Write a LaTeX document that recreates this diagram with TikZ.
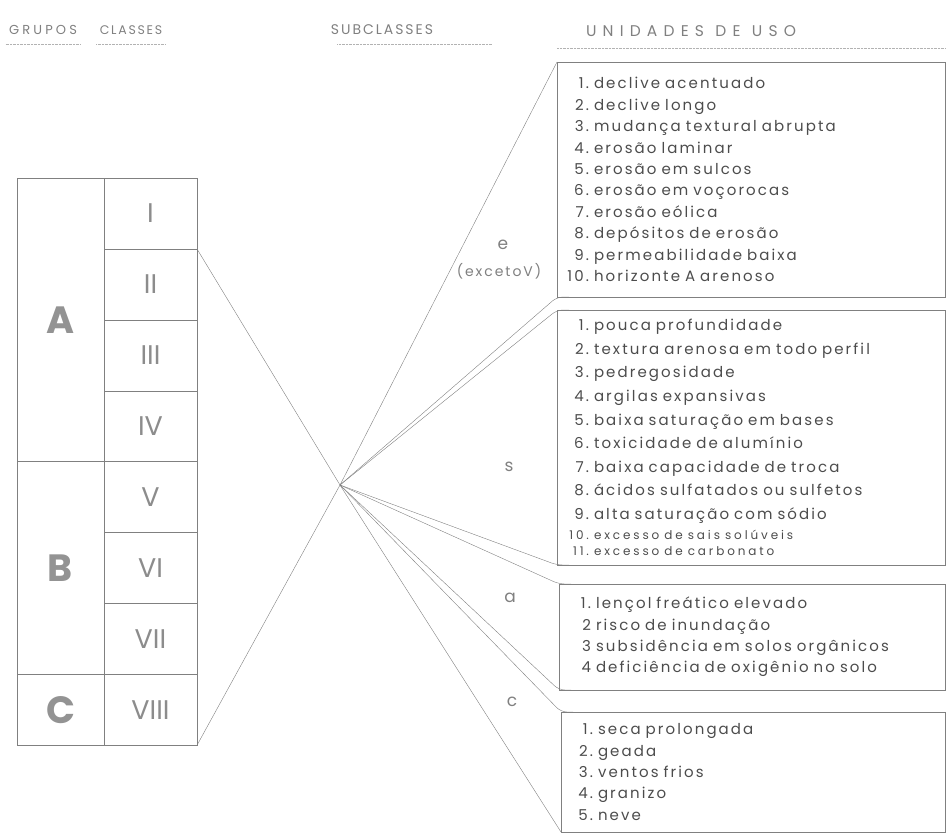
\documentclass[tikz,border=0pt]{standalone}
\usepackage{fontspec}
\setmainfont{Poppins}
\newfontfamily\lettering[LetterSpace=14,WordSpace=1.8]{Poppins}
\newfontfamily\widelettering[LetterSpace=24,WordSpace=2]{Poppins}
\newfontfamily\headlettering[LetterSpace=40,WordSpace=1.1]{Poppins}
\usetikzlibrary{positioning}
\definecolor{pencil}{gray}{0.50}
\definecolor{ink}{gray}{0.30}
\tikzstyle{cls}=[draw=pencil, rectangle, outer sep=0pt, minimum width=93pt, minimum height=70.9pt, font=\fontsize{27}{27}\selectfont, text=gray!90]
\tikzstyle{grp}=[draw=pencil, rectangle, outer sep=0pt, anchor=north east, minimum width=87pt, font=\bfseries\fontsize{38}{38}\selectfont, text=gray!85]
\tikzstyle{unit}=[draw=pencil, rectangle, outer sep=0pt, anchor=north west, inner xsep=16pt, text width=356pt, align=left, font=\lettering\fontsize{15}{21.4}\selectfont, text=ink]
\tikzstyle{head}=[font=\widelettering\fontsize{12.5}{12}\selectfont, text=gray]
\tikzstyle{sub}=[font=\lettering\fontsize{17}{17}\selectfont, text=gray]
\tikzstyle{fan}=[draw=pencil, thin]
\tikzstyle{rule}=[draw=gray!60, densely dotted]
\newcommand{\itm}[2]{\makebox[16pt][r]{#1}\hspace{5pt}#2}

\begin{document}
\begin{tikzpicture}[x=1pt,y=-1pt,>=latex]
    \useasboundingbox (0,0) rectangle (949,834);

    % column headings
    \node[head, font=\widelettering\fontsize{13}{12}\selectfont] (hgrp) at (43,30) {GRUPOS};
    \node[head, font=\lettering\fontsize{12.5}{12}\selectfont] (hcls) at (131,30) {CLASSES};
    \node[head, font=\lettering\fontsize{14}{12}\selectfont] (hsub) at (382,30) {SUBCLASSES};
    \node[head, font=\headlettering\fontsize{15.5}{12}\selectfont] (huni) at (691,31) {UNIDADES DE USO};
    \draw[rule] ([yshift=-6pt]hgrp.south west) -- ([yshift=-6pt]hgrp.south east);
    \draw[rule] ([yshift=-6pt]hcls.south west) -- ([yshift=-6pt]hcls.south east);
    \draw[rule] ([yshift=-6pt,xshift=10pt]hsub.south west) -- ([yshift=-6pt,xshift=55pt]hsub.south east);

    % classes
    \node[cls] (c1) at (150.5,213.5) {I};
    \node[cls, below=0pt of c1] (c2) {II};
    \node[cls, below=0pt of c2] (c3) {III};
    \node[cls, below=0pt of c3] (c4) {IV};
    \node[cls, below=0pt of c4] (c5) {V};
    \node[cls, below=0pt of c5] (c6) {VI};
    \node[cls, below=0pt of c6] (c7) {VII};
    \node[cls, below=0pt of c7] (c8) {VIII};

    % groups
    \node[grp, minimum height=283.6pt] (gA) at (c1.north west) {A};
    \node[grp, minimum height=212.7pt] (gB) at (c5.north west) {B};
    \node[grp, minimum height=70.9pt] (gC) at (c8.north west) {C};

    % units of use
    \node[unit, minimum height=235pt] (ue) at (557,62) {%
        \itm{1.}{declive acentuado}\\
        \itm{2.}{declive longo}\\
        \itm{3.}{mudança textural abrupta}\\
        \itm{4.}{erosão laminar}\\
        \itm{5.}{erosão em sulcos}\\
        \itm{6.}{erosão em voçorocas}\\
        \itm{7.}{erosão eólica}\\
        \itm{8.}{depósitos de erosão}\\
        \itm{9.}{permeabilidade baixa}\\
        \itm{10.}{horizonte A arenoso}};
    \node[unit, minimum height=255pt, font=\lettering\fontsize{15}{23.6}\selectfont] (us) at (557,310) {%
        \itm{1.}{pouca profundidade}\\
        \itm{2.}{textura arenosa em todo perfil}\\
        \itm{3.}{pedregosidade}\\
        \itm{4.}{argilas expansivas}\\
        \itm{5.}{baixa saturação em bases}\\
        \itm{6.}{toxicidade de alumínio}\\
        \itm{7.}{baixa capacidade de troca}\\
        \itm{8.}{ácidos sulfatados ou sulfetos}\\
        \itm{9.}{alta saturação com sódio}\\[-4pt]
        {\widelettering\fontsize{12}{16}\selectfont\itm{10.}{excesso de sais solúveis}}\\[-7pt]
        {\widelettering\fontsize{12}{16}\selectfont\itm{11.}{excesso de carbonato}}};
    \node[unit, minimum height=106pt, text width=354pt] (ua) at (559,584) {%
        \itm{1.}{lençol freático elevado}\\
        \itm{2}{risco de inundação}\\
        \itm{3}{subsidência em solos orgânicos}\\
        \itm{4}{deficiência de oxigênio no solo}};
    \node[unit, minimum height=120pt, text width=352pt] (uc) at (561,712) {%
        \itm{1.}{seca prolongada}\\
        \itm{2.}{geada}\\
        \itm{3.}{ventos frios}\\
        \itm{4.}{granizo}\\
        \itm{5.}{neve}};
    \draw[rule] (ue.north west |- huni.south) ++(0,-8pt) coordinate (ul) -- (ue.north east |- ul);

    % subclasses
    \node[sub] (se) at (503,245) {e};
    \node[head, font=\lettering\fontsize{14}{12}\selectfont] (sx) at (499,271) {(excetoV)};
    \node[sub] (ss) at (509,467) {s};
    \node[sub] (sa) at (510,598) {a};
    \node[sub] (sc) at (512,702) {c};

    % connectors
    \coordinate (fp) at (340,485);
    \draw[fan] (c2.north east) -- (fp);
    \draw[fan] (c8.south east) -- (fp);
    \draw[fan] (fp) -- (ue.north west);
    \draw[fan, rounded corners=6pt] (fp) -- (ue.south west) -- ++(12,0);
    \draw[fan, rounded corners=6pt] (fp) -- (us.north west) -- ++(12,0);
    \draw[fan, rounded corners=6pt] (fp) -- (us.south west) -- ++(12,0);
    \draw[fan, rounded corners=6pt] (fp) -- (ua.north west) -- ++(12,0);
    \draw[fan, rounded corners=6pt] (fp) -- (ua.south west) -- ++(12,0);
    \draw[fan, rounded corners=6pt] (fp) -- (uc.north west) -- ++(12,0);
    \draw[fan] (fp) -- (uc.south west);
\end{tikzpicture}
\end{document}
